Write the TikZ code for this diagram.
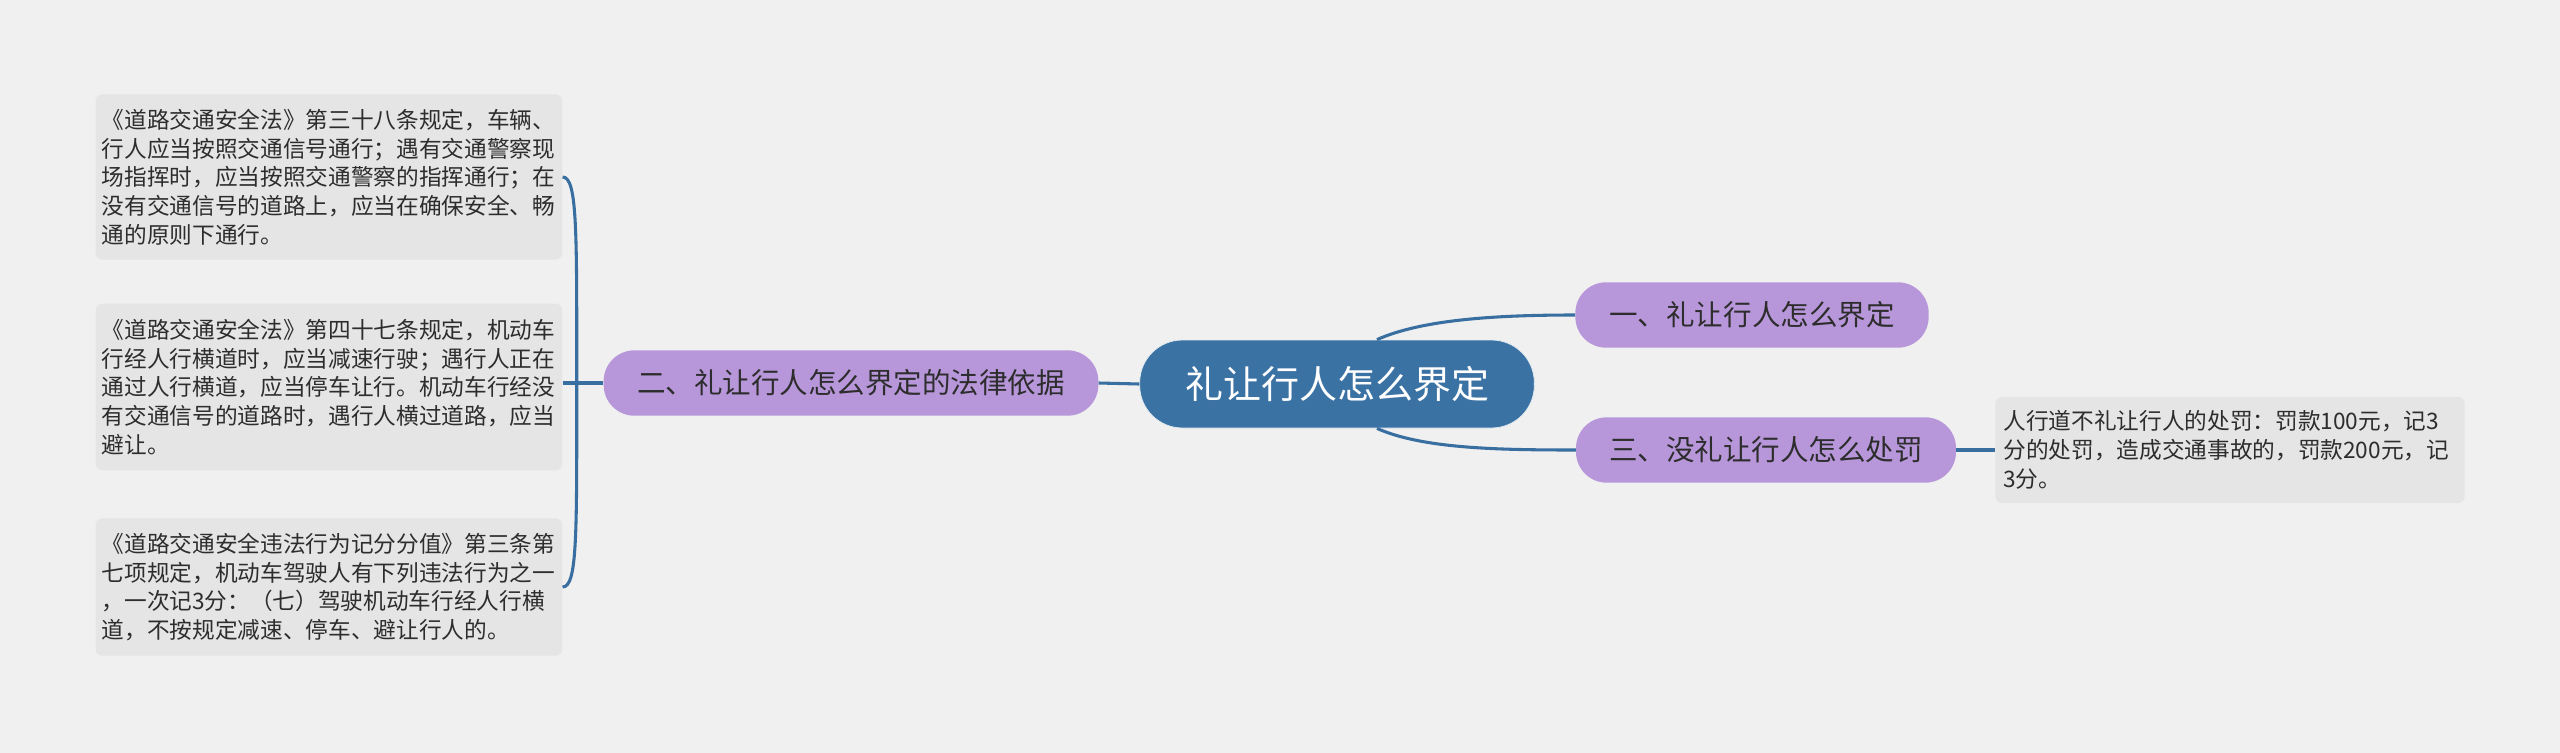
\documentclass[tikz,border=0pt]{standalone}
\usepackage{fontspec}
\newfontfamily\cjk{Noto Sans CJK SC}
\usetikzlibrary{positioning}
\definecolor{mapBg}{RGB}{240,240,240}
\definecolor{mapRoot}{RGB}{59,114,164}
\definecolor{mapTopic}{RGB}{183,151,218}
\definecolor{mapLeaf}{RGB}{229,229,229}
\definecolor{mapLine}{RGB}{56,110,160}
\definecolor{mapText}{RGB}{45,45,45}

\begin{document}
\begin{tikzpicture}[x=0.75pt, y=-0.75pt,
  rootnode/.style={rectangle, rounded corners=32pt, fill=mapRoot, text=white,
                   draw=white!85!mapRoot, line width=0.6pt,
                   minimum width=296pt, minimum height=66pt,
                   font=\cjk\fontsize{28.5}{34}\selectfont},
  topicnode/.style={rectangle, rounded corners=23pt, fill=mapTopic, text=mapText,
                    minimum height=49pt, font=\cjk\fontsize{21.4}{26}\selectfont},
  leafnode/.style={rectangle, rounded corners=5pt, fill=mapLeaf, text=mapText,
                   align=left, text width=341pt, inner xsep=4.5pt,
                   font=\cjk\fontsize{17}{21.5}\selectfont},
  link/.style={draw=mapLine, line width=2.3pt},
]

% background and page size
\fill[mapBg] (0,0) rectangle (2560,753);
\useasboundingbox (0,0) rectangle (2560,753);

%% centre topic
\node[rootnode] (root) at (1337,384) {礼让行人怎么界定};

%% main branches
\node[topicnode, minimum width=265pt] (b1) at (1752,315) {一、礼让行人怎么界定};
\node[topicnode, minimum width=371pt] (b2) at (851,383) {二、礼让行人怎么界定的法律依据};
\node[topicnode, minimum width=285pt] (b3) at (1766,450) {三、没礼让行人怎么处罚};

%% details, right side
\node[leafnode, text width=340pt, inner xsep=6pt, minimum height=79.5pt] (r1) at (2230,450)
  {人行道不礼让行人的处罚：罚款100元，记3\\
   分的处罚，造成交通事故的，罚款200元，记\\
   3分。};

%% details, left side
\node[leafnode, minimum height=124pt] (l1) at (329,177)
  {《道路交通安全法》第三十八条规定，车辆、\\
   行人应当按照交通信号通行；遇有交通警察现\\
   场指挥时，应当按照交通警察的指挥通行；在\\
   没有交通信号的道路上，应当在确保安全、畅\\
   通的原则下通行。};
\node[leafnode, minimum height=125pt] (l2) at (329,387)
  {《道路交通安全法》第四十七条规定，机动车\\
   行经人行横道时，应当减速行驶；遇行人正在\\
   通过人行横道，应当停车让行。机动车行经没\\
   有交通信号的道路时，遇行人横过道路，应当\\
   避让。};
\node[leafnode, minimum height=103pt] (l3) at (329,587)
  {《道路交通安全违法行为记分分值》第三条第\\
   七项规定，机动车驾驶人有下列违法行为之一\\
   ，一次记3分：（七）驾驶机动车行经人行横\\
   道，不按规定减速、停车、避让行人的。};

%% connectors
\draw[link] (root.48) .. controls +(45,-20) and +(-80,0) .. (b1.west);
\draw[link] (root.-48) .. controls +(45,20) and +(-80,0) .. (b3.west);
\draw[link] (root.west) -- (b2.east);
\draw[link] (b3.east) -- (r1.west);

\coordinate[left=20pt of b2.west] (fork);
\draw[link] (b2.west) -- (l2.east |- b2.west);
\draw[link] (fork) .. controls +(0,-150) and +(15,0) .. (l1.east);
\draw[link] (fork) .. controls +(0,150) and +(15,0) .. (l3.east);

\end{tikzpicture}
\end{document}
